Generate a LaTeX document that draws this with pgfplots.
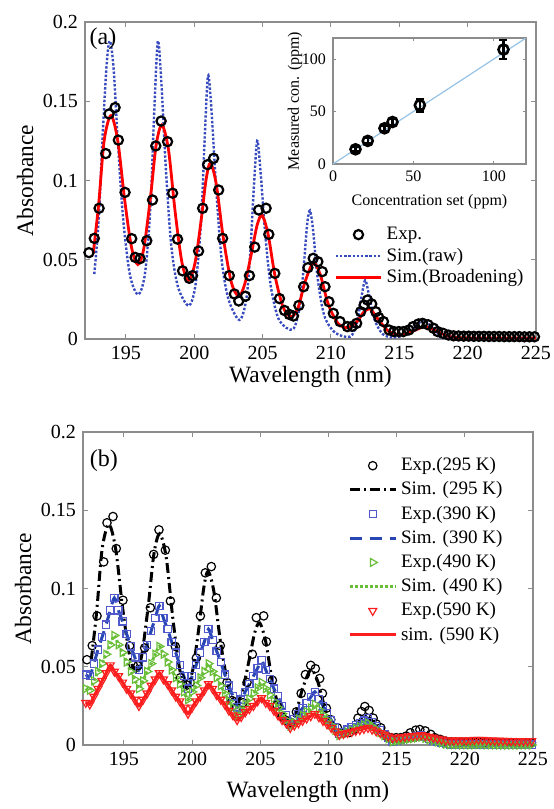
\documentclass[border=0pt]{standalone}
\usepackage{fontspec}
\setmainfont{Liberation Serif}
\usepackage{pgfplots}
\pgfplotsset{compat=1.18}
\usepackage{pgfplotstable}

\definecolor{axgray}{RGB}{140,140,140}
\definecolor{rawblue}{RGB}{55,75,190}
\definecolor{sqblue}{RGB}{80,90,205}
\definecolor{dblue}{RGB}{40,70,180}
\definecolor{tgreen}{RGB}{105,190,55}
\definecolor{tred}{RGB}{250,30,30}
\definecolor{fitblue}{RGB}{150,195,230}

\pgfplotstableread{
x y
192.29 0.0545
192.68 0.0635
193.03 0.0825
193.52 0.117
193.76 0.142
194.2 0.146
194.44 0.1255
194.93 0.0925
195.42 0.0633
195.67 0.0515
196.03 0.0507
196.52 0.062
196.94 0.0877
197.18 0.1218
197.57 0.1375
198.04 0.1245
198.41 0.092
198.77 0.063
199.14 0.043
199.63 0.0383
199.87 0.040
200.31 0.0555
200.61 0.0825
200.97 0.110
201.41 0.114
201.78 0.094
202.07 0.0635
202.56 0.040
202.93 0.0284
203.25 0.024
203.74 0.027
204.03 0.040
204.42 0.058
204.71 0.0814
205.25 0.0825
205.45 0.066
205.89 0.0414
206.23 0.0255
206.6 0.0180
206.95 0.0155
207.25 0.0145
207.65 0.0212
208.0 0.033
208.31 0.045
208.7 0.0509
209.04 0.0488
209.36 0.0425
209.56 0.033
209.85 0.0235
210.17 0.0162
210.66 0.011
211.2 0.0078
211.55 0.008
211.88 0.0099
212.17 0.0172
212.42 0.0214
212.67 0.0246
212.98 0.0221
213.28 0.0172
213.5 0.0135
213.84 0.011
214.25 0.0057
214.6 0.0047
214.96 0.0047
215.3 0.0047
215.7 0.0057
216.0 0.0078
216.4 0.0095
216.7 0.0099
217.1 0.009
217.5 0.0068
217.8 0.0047
218.2 0.0036
218.6 0.0025
218.97 0.0020
219.34 0.0019
219.71 0.0018
220.08 0.0018
220.45 0.0017
220.82 0.0017
221.19 0.0017
221.56 0.0016
221.93 0.0016
222.30 0.0016
222.67 0.0015
223.04 0.0015
223.41 0.0015
223.78 0.0015
224.15 0.0014
224.52 0.0014
224.89 0.0014
}\expdata

\pgfplotstableread{
x y
192.6 0.054
193.0 0.085
193.4 0.125
193.9 0.141
194.4 0.125
194.9 0.088
195.4 0.058
195.86 0.047
196.3 0.057
196.8 0.09
197.2 0.122
197.62 0.135
198.1 0.12
198.6 0.08
199.1 0.048
199.58 0.037
200.05 0.048
200.5 0.075
200.85 0.1
201.17 0.111
201.6 0.098
202.1 0.065
202.7 0.036
203.25 0.027
203.7 0.035
204.2 0.055
204.6 0.072
204.96 0.078
205.4 0.066
205.9 0.04
206.5 0.02
207.1 0.014
207.6 0.02
208.1 0.036
208.7 0.048
209.2 0.041
209.8 0.022
210.5 0.01
211.2 0.0072
211.9 0.011
212.4 0.017
212.86 0.019
213.4 0.013
214.2 0.005
215.1 0.0025
216.0 0.005
216.87 0.0078
217.6 0.0055
218.5 0.002
219.5 0.0008
222.0 0.0006
225.0 0.0006
}\broaddata

\pgfplotstableread{
x y
192.68 0.041
193.0 0.075
193.3 0.13
193.6 0.175
193.83 0.188
194.1 0.17
194.4 0.125
194.8 0.075
195.3 0.040
195.9 0.028
196.4 0.042
196.8 0.085
197.05 0.14
197.33 0.188
197.6 0.16
197.9 0.11
198.3 0.06
198.8 0.033
199.6 0.021
200.1 0.035
200.5 0.075
200.75 0.125
201.0 0.166
201.25 0.145
201.6 0.095
202.0 0.05
202.5 0.025
203.3 0.012
203.8 0.025
204.1 0.055
204.35 0.095
204.6 0.125
204.85 0.105
205.2 0.065
205.6 0.033
206.2 0.012
207.2 0.006
207.7 0.02
208.0 0.045
208.25 0.072
208.46 0.081
208.7 0.068
209.0 0.04
209.5 0.015
210.3 0.004
211.4 0.0015
211.9 0.01
212.2 0.025
212.5 0.037
212.8 0.027
213.2 0.012
213.8 0.003
214.6 0.001
215.6 0.003
216.3 0.009
216.8 0.012
217.3 0.008
217.9 0.003
218.6 0.0005
225.0 0.0005
}\rawdata

\pgfplotstableread{
x b g r
192.2 0.045 0.036 0.027
192.5 0.044 0.035 0.026
192.8 0.052 0.041 0.031
193.1 0.061 0.047 0.036
193.4 0.069 0.052 0.041
193.7 0.077 0.058 0.046
194.0 0.086 0.064 0.051
194.3 0.094 0.070 0.047
194.6 0.086 0.064 0.044
194.9 0.079 0.059 0.040
195.2 0.071 0.053 0.036
195.5 0.063 0.047 0.033
195.8 0.056 0.042 0.029
196.1 0.048 0.036 0.025
196.4 0.056 0.041 0.029
196.7 0.064 0.047 0.033
197.0 0.073 0.052 0.038
197.3 0.081 0.058 0.042
197.6 0.089 0.063 0.046
197.9 0.081 0.058 0.042
198.2 0.074 0.053 0.039
198.5 0.066 0.048 0.035
198.8 0.059 0.043 0.031
199.1 0.051 0.039 0.028
199.4 0.044 0.034 0.024
199.7 0.036 0.029 0.020
200.0 0.044 0.034 0.024
200.3 0.051 0.038 0.028
200.6 0.059 0.043 0.031
200.9 0.066 0.047 0.035
201.2 0.074 0.052 0.039
201.5 0.067 0.047 0.036
201.8 0.060 0.043 0.032
202.1 0.053 0.038 0.029
202.4 0.045 0.033 0.026
202.7 0.038 0.028 0.022
203.0 0.031 0.024 0.019
203.3 0.024 0.019 0.016
203.6 0.029 0.0225 0.018
203.9 0.034 0.026 0.021
204.2 0.039 0.0295 0.023
204.5 0.044 0.033 0.025
204.8 0.049 0.0365 0.028
205.1 0.054 0.040 0.030
205.4 0.048 0.036 0.027
205.7 0.042 0.032 0.025
206.0 0.036 0.028 0.022
206.3 0.031 0.024 0.019
206.6 0.025 0.020 0.016
206.9 0.019 0.016 0.014
207.2 0.013 0.012 0.011
207.5 0.0165 0.0143 0.0125
207.8 0.020 0.0167 0.014
208.1 0.0235 0.019 0.0155
208.4 0.027 0.0213 0.017
208.7 0.0305 0.0237 0.0185
209.0 0.034 0.026 0.020
209.3 0.0295 0.0227 0.0178
209.6 0.025 0.0193 0.0155
209.9 0.0205 0.016 0.0133
210.2 0.016 0.0127 0.011
210.5 0.0115 0.0093 0.0088
210.8 0.007 0.006 0.0065
211.1 0.0084 0.0071 0.0071
211.4 0.0099 0.0083 0.0078
211.7 0.0113 0.0094 0.0084
212.0 0.0127 0.0106 0.0091
212.3 0.0141 0.0117 0.0097
212.6 0.0156 0.0129 0.0104
212.9 0.017 0.014 0.011
213.2 0.0145 0.012 0.0099
213.5 0.012 0.010 0.0088
213.8 0.0095 0.008 0.0077
214.1 0.007 0.006 0.0067
214.4 0.0045 0.004 0.0056
214.7 0.002 0.002 0.0045
215.0 0.0026 0.0024 0.0048
215.3 0.0031 0.0029 0.0050
215.6 0.0037 0.0033 0.0053
215.9 0.0043 0.0037 0.0056
216.2 0.0049 0.0041 0.0058
216.5 0.0054 0.0046 0.0061
216.8 0.006 0.005 0.0064
217.1 0.005 0.0043 0.0058
217.4 0.004 0.0035 0.0053
217.7 0.003 0.0028 0.0047
218.0 0.002 0.002 0.0042
218.3 0.0012 0.0013 0.0036
218.6 0.0005 0.0005 0.0030
218.9 0.0004 0.0003 0.0030
219.2 0.0003 0.0002 0.0029
219.5 0.0003 0.0002 0.0030
219.8 0.0003 0.0001 0.0031
220.1 0.0003 0.0001 0.0030
220.4 0.0003 0.0001 0.0031
220.7 0.0004 0.0001 0.0033
221.0 0.0004 0.0002 0.0034
221.3 0.0004 0.0002 0.0033
221.6 0.0003 0.0001 0.0031
221.9 0.0003 0.0001 0.0030
222.2 0.0003 0.0000 0.0029
222.5 0.0003 0.0000 0.0028
222.8 0.0002 0.0000 0.0027
223.1 0.0002 0.0000 0.0027
223.4 0.0002 0.0000 0.0026
223.7 0.0002 0.0000 0.0026
224.0 0.0002 0.0000 0.0025
224.3 0.0002 0.0000 0.0025
224.6 0.0002 0.0000 0.0025
224.9 0.0002 0.0000 0.0025
}\hotdata

\pgfplotstableread{
x y e
14 14 2
21.6 22 2.5
32 34 2.5
37 40 3
54 56 5.9
106 109 9.2
}\insetdata

\pgfplotsset{
  mainstyle/.style={
    scale only axis,
    xmin=192, xmax=225, ymin=0, ymax=0.2,
    xtick={195,200,...,225},
    ytick={0,0.05,0.1,0.15,0.2},
    yticklabels={0,0.05,0.1,0.15,0.2},
    scaled y ticks=false,
    axis line style={axgray, line width=0.6pt},
    tick style={axgray, line width=0.5pt},
    major tick length=2.5pt,
    tick align=inside,
    xtick pos=both, ytick pos=both,
    /pgf/number format/assume math mode=true,
    tick label style={font=\fontsize{10}{12}\selectfont, black},
    label style={font=\fontsize{11.7}{14}\selectfont},
    legend style={draw=none, fill=none, font=\fontsize{9.5}{11}\selectfont, cells={anchor=west}},
    legend image code/.code={\draw[mark repeat=2,mark phase=2,#1] plot coordinates {(0cm,0cm) (0.4cm,0cm) (0.8cm,0cm)};},
  }
}

\begin{document}
\begin{tikzpicture}
\useasboundingbox (-42.5pt,11pt) rectangle (234pt,-393.5pt);

% ---------------- panel (a)
\begin{axis}[mainstyle,
  at={(0pt,0pt)}, anchor=north west,
  width=225.5pt, height=158.5pt,
  xlabel={Wavelength (nm)}, ylabel={Absorbance},
  xlabel style={at={(axis description cs:0.5,-0.12)}, anchor=center},
  ylabel style={at={(axis description cs:-0.133,0.5)}, anchor=center},
  legend style={at={(0.995,0.38)}, anchor=north east, row sep=-1.2pt},
]
\addlegendimage{only marks, mark=o, mark size=2.3pt, line width=1.1pt, black}
\addlegendentry{Exp.}
\addlegendimage{rawblue, line width=1.2pt, dash pattern={on 1.2pt off 0.9pt}}
\addlegendentry{Sim.(raw)}
\addlegendimage{red, line width=1.4pt}
\addlegendentry{Sim.(Broadening)}
\addplot[forget plot, rawblue, line width=1.2pt, dash pattern={on 1.2pt off 0.9pt}, smooth] table[x=x,y=y] {\rawdata};
\addplot[forget plot, only marks, mark=o, mark size=2.3pt, line width=1.1pt, black] table[x=x,y=y] {\expdata};
\addplot[forget plot, red, line width=1.4pt, smooth] table[x=x,y=y] {\broaddata};
\node[anchor=north west, inner sep=1pt, font=\fontsize{12}{14}\selectfont] at (rel axis cs:0.005,0.99) {(a)};
\end{axis}

% ---------------- inset
\begin{axis}[scale only axis,
  at={(124pt,-8pt)}, anchor=north west,
  width=96.5pt, height=63pt,
  xmin=0, xmax=120, ymin=0, ymax=120,
  xtick={0,50,100}, ytick={0,50,100},
  axis line style={axgray, line width=0.6pt},
  tick style={axgray, line width=0.4pt},
  major tick length=1.5pt, tick align=inside,
  xtick pos=both, ytick pos=both,
  axis background/.style={fill=white},
  /pgf/number format/assume math mode=true,
  tick label style={font=\fontsize{8}{9.6}\selectfont, black},
  label style={font=\fontsize{8}{9.6}\selectfont},
  xlabel={Concentration set (ppm)}, ylabel={Measured con. (ppm)},
  xlabel style={at={(axis description cs:0.5,-0.30)}, anchor=center},
  ylabel style={at={(axis description cs:-0.197,0.5)}, anchor=center},
]
\addplot[fitblue, line width=0.6pt] coordinates {(0,0) (120,120)};
\addplot[only marks, mark=o, mark size=2.5pt, line width=1.3pt, black,
  error bars/.cd, y dir=both, y explicit,
  error bar style={line width=1.2pt, black},
  error mark options={rotate=90, mark size=2pt, line width=1.2pt, black}]
  table[x=x, y=y, y error=e] {\insetdata};
\end{axis}

% ---------------- panel (b)
\begin{axis}[mainstyle,
  at={(-1pt,-205pt)}, anchor=north west,
  width=225pt, height=156.5pt,
  xlabel={Wavelength (nm)}, ylabel={Absorbance},
  xlabel style={at={(axis description cs:0.5,-0.15)}, anchor=center},
  ylabel style={at={(axis description cs:-0.133,0.5)}, anchor=center},
  legend style={at={(0.955,0.945)}, anchor=north east},
]
\addplot[only marks, mark=o, mark size=2.1pt, line width=0.6pt, black] table[x=x,y=y] {\expdata};
\addlegendentry{Exp.(295 K)}
\addplot[black, line width=1.5pt, dash pattern={on 5pt off 2pt on 1pt off 2pt}, smooth] table[x=x,y=y] {\broaddata};
\addlegendentry{Sim. (295 K)}
\addplot[only marks, mark=square, mark size=1.8pt, line width=0.6pt, sqblue] table[x=x,y=b] {\hotdata};
\addlegendentry{Exp.(390 K)}
\addplot[dblue, line width=1.5pt, dash pattern={on 6pt off 4pt}, smooth] table[x=x,y=b] {\hotdata};
\addlegendentry{Sim. (390 K)}
\addplot[only marks, mark=triangle, mark size=2.3pt, line width=0.6pt, tgreen, mark options={rotate=-90}] table[x=x,y=g] {\hotdata};
\addlegendentry{Exp.(490 K)}
\addplot[tgreen, line width=1.5pt, dash pattern={on 1.3pt off 1.2pt}, smooth] table[x=x,y=g] {\hotdata};
\addlegendentry{Sim. (490 K)}
\addplot[only marks, mark=triangle, mark size=2.3pt, line width=0.6pt, tred, mark options={rotate=180}] table[x=x,y=r] {\hotdata};
\addlegendentry{Exp.(590 K)}
\addplot[tred, line width=1.5pt, smooth] table[x=x,y=r] {\hotdata};
\addlegendentry{sim. (590 K)}
\node[anchor=north west, inner sep=1pt, font=\fontsize{12}{14}\selectfont] at (rel axis cs:0.01,0.95) {(b)};
\end{axis}
\end{tikzpicture}
\end{document}
